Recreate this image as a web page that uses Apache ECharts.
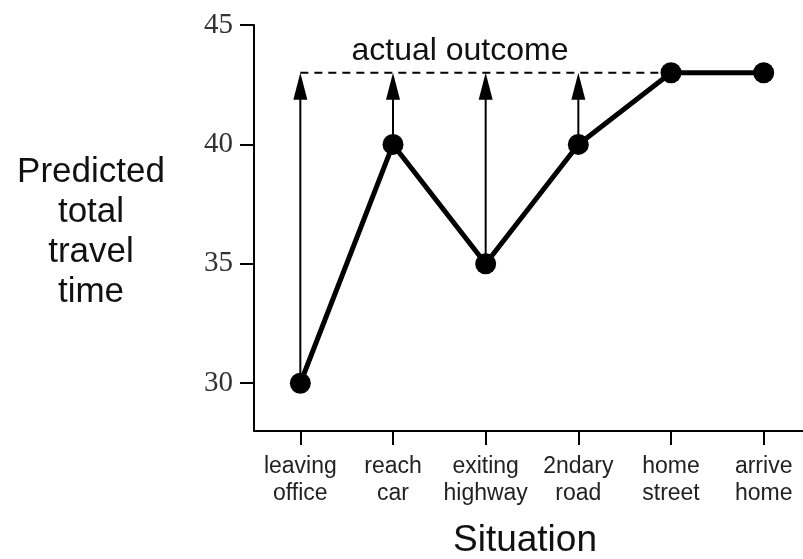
<!DOCTYPE html>
<html>
<head>
<meta charset="utf-8">
<script src="https://cdn.jsdelivr.net/npm/echarts@6/dist/echarts.min.js"></script>
<style>
  html, body { margin: 0; padding: 0; background: #fff; }
  #chart { width: 803px; height: 559px; }
</style>
</head>
<body>
<div id="chart"></div>
<script>
const categories = ['leaving\noffice', 'reach\ncar', 'exiting\nhighway', '2ndary\nroad', 'home\nstreet', 'arrive\nhome'];
const predicted = [30, 40, 35, 40, 43, 43];
const actualOutcome = 43;
const outcomeLine = [43, 43, 43, 43, 43, null];
const arrowRows = [[0, 30, 43], [1, 40, 43], [2, 35, 43], [3, 40, 43]];
const yTicks = [30, 35, 40, 45];

const chart = echarts.init(document.getElementById('chart'), null, { renderer: 'canvas' });

chart.setOption({
  animation: false,
  backgroundColor: '#ffffff',
  grid: { left: 254, top: 25, bottom: 128, width: 556, containLabel: false, outerBoundsMode: 'none' },
  xAxis: {
    type: 'category',
    data: categories,
    boundaryGap: true,
    axisLine: { show: true, lineStyle: { color: '#000', width: 2 } },
    axisTick: { show: true, alignWithLabel: true, length: 14, lineStyle: { color: '#000', width: 2 } },
    axisLabel: {
      color: '#222', fontFamily: 'Liberation Sans', fontSize: 23, lineHeight: 27,
      margin: 22, interval: 0
    },
    splitLine: { show: false }
  },
  yAxis: {
    type: 'value',
    min: 28,
    max: 45,
    axisLine: { show: true, lineStyle: { color: '#000', width: 2 } },
    axisTick: { show: true, length: 14, customValues: yTicks, lineStyle: { color: '#000', width: 2 } },
    axisLabel: {
      customValues: yTicks,
      color: '#333', fontFamily: 'Liberation Serif', fontSize: 29, margin: 21
    },
    splitLine: { show: false }
  },
  graphic: [
    {
      type: 'text', x: 91, y: 232,
      style: {
        text: 'Predicted\ntotal\ntravel\ntime',
        textAlign: 'center', textVerticalAlign: 'middle',
        font: '35px "Liberation Sans"', lineHeight: 40, fill: '#111'
      }
    },
    {
      type: 'text', x: 460, y: 51,
      style: {
        text: 'actual outcome',
        textAlign: 'center', textVerticalAlign: 'middle',
        font: '32px "Liberation Sans"', fill: '#111'
      }
    },
    {
      type: 'text', x: 525, y: 541,
      style: {
        text: 'Situation',
        textAlign: 'center', textVerticalAlign: 'middle',
        font: '37px "Liberation Sans"', fill: '#111'
      }
    }
  ],
  series: [
    {
      type: 'line',
      data: outcomeLine,
      symbol: 'none',
      connectNulls: false,
      lineStyle: { color: '#000', width: 2, type: [8, 6] },
      z: 1,
      silent: true
    },
    {
      type: 'custom',
      data: arrowRows,
      encode: { x: 0, y: [1, 2] },
      z: 2,
      renderItem: function (params, api) {
        const top = api.coord([api.value(0), api.value(2)]);
        const bot = api.coord([api.value(0), api.value(1)]);
        return {
          type: 'group',
          children: [
            { type: 'line', shape: { x1: bot[0], y1: bot[1], x2: top[0], y2: top[1] + 12 },
              style: { stroke: '#000', lineWidth: 2 } },
            { type: 'polygon', shape: { points: [[top[0], top[1]], [top[0] - 7, top[1] + 27], [top[0] + 7, top[1] + 27]] },
              style: { fill: '#000' } }
          ]
        };
      }
    },
    {
      type: 'line',
      data: predicted,
      symbol: 'circle',
      symbolSize: 21,
      itemStyle: { color: '#000' },
      lineStyle: { color: '#000', width: 5 },
      z: 3
    }
  ]
});
</script>
</body>
</html>
